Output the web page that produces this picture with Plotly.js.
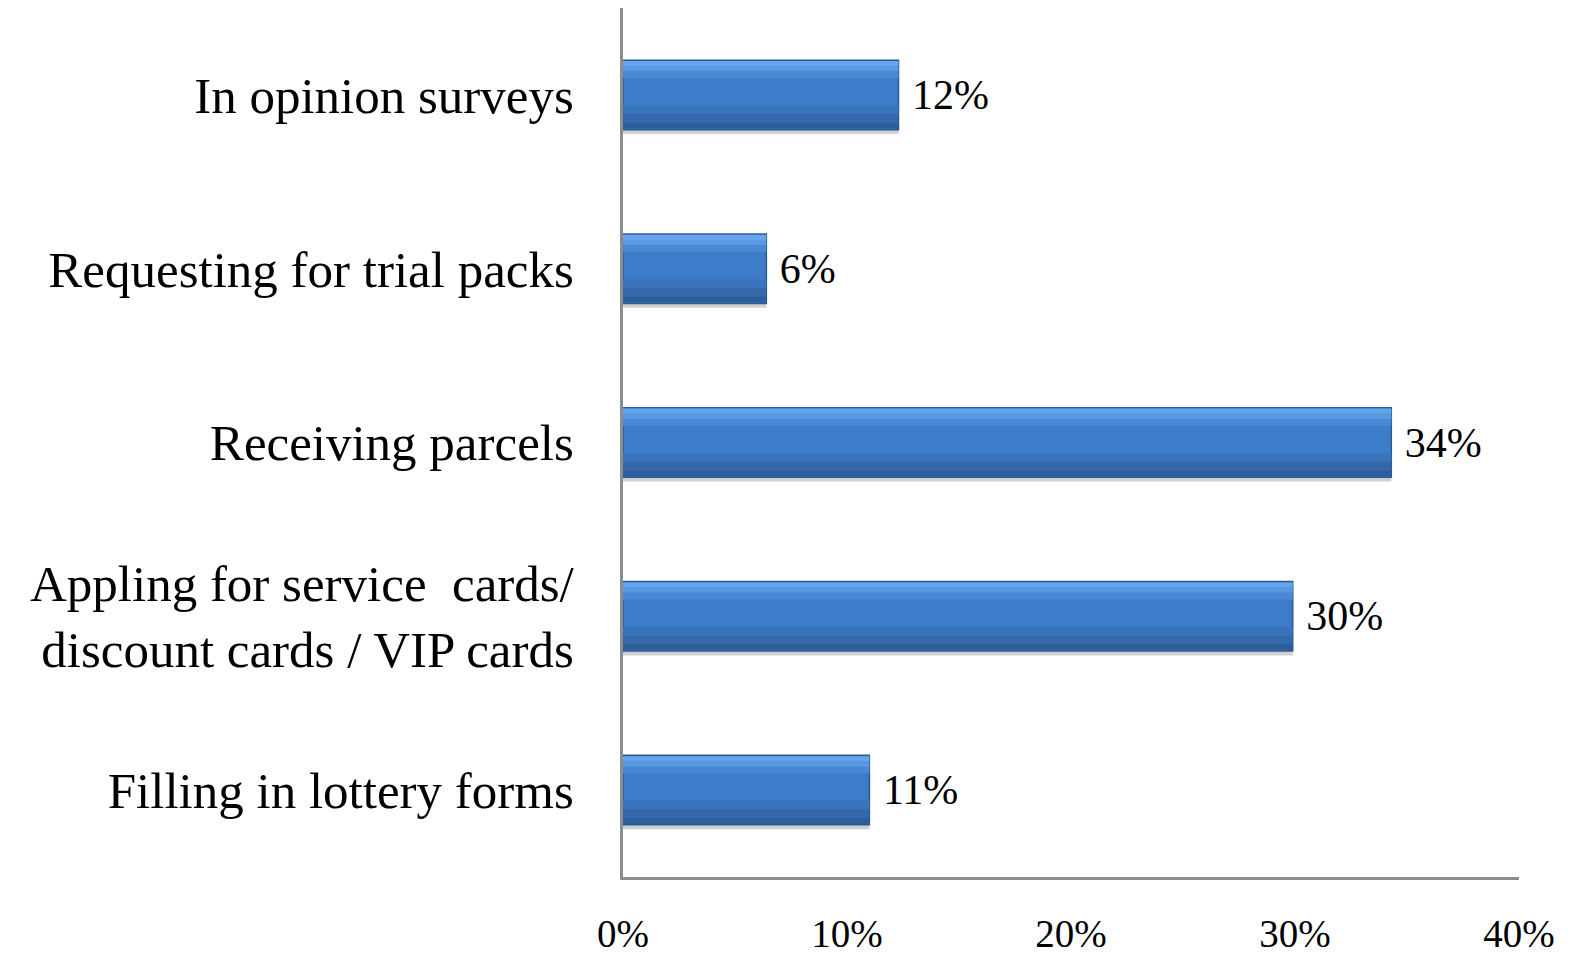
<!DOCTYPE html>
<html>
<head>
<meta charset="utf-8">
<script src="https://cdn.plot.ly/plotly-3.0.1.min.js"></script>
<style>
  html, body { margin: 0; padding: 0; background: #ffffff; }
  #chart { width: 1574px; height: 960px; }
</style>
</head>
<body>
<div id="chart"></div>
<script>
// Data (top to bottom)
var categories = [
  "In opinion surveys",
  "Requesting for trial packs",
  "Receiving parcels",
  "Appling for service  cards/<br>discount cards / VIP cards",
  "Filling in lottery forms"
];
var values = [12.3, 6.4, 34.3, 29.9, 11.0];
var valueLabels = ["12%", "6%", "34%", "30%", "11%"];
var tickVals = [0, 10, 20, 30, 40];
var tickLabels = ["0%", "10%", "20%", "30%", "40%"];

var serif = "Liberation Serif, Times New Roman, serif";

function strip(color, offset, width, extra) {
  var t = {
    type: "bar",
    orientation: "h",
    y: categories,
    x: values,
    offset: offset,
    width: width,
    marker: { color: color, line: { width: 0 } },
    hoverinfo: "skip",
    showlegend: false
  };
  for (var k in extra) t[k] = extra[k];
  return t;
}

var traces = [
  // soft shadow under bar
  strip("rgba(150,150,150,0.45)", 0.19, 0.035, {}),
  // main bar body
  strip("#3d7cc9", -0.2, 0.4, {
    marker: { color: "#3d7cc9", line: { color: "#2c5a93", width: 1.5 } },
    text: valueLabels.map(function (s) { return " " + s; }),
    textposition: "outside",
    cliponaxis: false,
    textfont: { family: serif, size: 42, color: "#000000" }
  }),
  // upper highlight
  strip("#66a4ec", -0.195, 0.03, {}),
  strip("#579ae3", -0.165, 0.03, {}),
  strip("#4a88d6", -0.135, 0.04, {}),
  // lower shade
  strip("#3873bc", 0.06, 0.05, {}),
  strip("#3368ab", 0.11, 0.05, {}),
  strip("#2d5e9c", 0.16, 0.035, {})
];

var layout = {
  width: 1574,
  height: 960,
  paper_bgcolor: "#ffffff",
  plot_bgcolor: "#ffffff",
  margin: { l: 623, r: 55, t: 8, b: 83 },
  barmode: "overlay",
  showlegend: false,
  font: { family: serif, color: "#000000" },
  xaxis: {
    range: [0, 40],
    tickmode: "array",
    tickvals: tickVals,
    ticktext: tickLabels,
    showgrid: false,
    zeroline: false,
    showline: true,
    linecolor: "#8c8c8c",
    linewidth: 3,
    ticks: "",
    ticklabelstandoff: 20,
    tickfont: { family: serif, size: 39, color: "#000000" },
    fixedrange: true
  },
  yaxis: {
    autorange: "reversed",
    showgrid: false,
    zeroline: false,
    showline: true,
    linecolor: "#8c8c8c",
    linewidth: 3,
    ticks: "",
    ticklabelstandoff: 36,
    tickfont: { family: serif, size: 51, color: "#000000" },
    automargin: false,
    fixedrange: true
  }
};

Plotly.newPlot("chart", traces, layout, { displayModeBar: false, staticPlot: true });
</script>
</body>
</html>
